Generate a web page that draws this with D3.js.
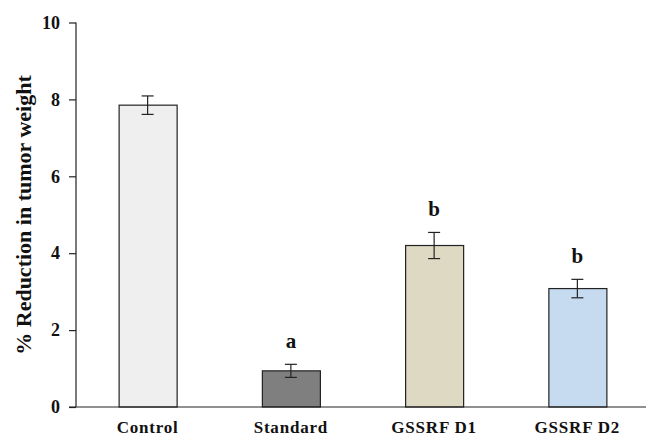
<!DOCTYPE html>
<html>
<head>
<meta charset="utf-8">
<script src="https://cdn.jsdelivr.net/npm/d3@7"></script>
<style>
  body { margin: 0; background: #fff; }
</style>
</head>
<body>
<script>
// data
var categories = ["Control", "Standard", "GSSRF D1", "GSSRF D2"];
var values = [7.85, 0.94, 4.2, 3.08];
var errors = [0.24, 0.17, 0.34, 0.24];
var letters = ["", "a", "b", "b"];
var colors = ["#efefef", "#7f7f7f", "#ddd9c3", "#c6daf0"];
var yTicks = [0, 2, 4, 6, 8, 10];

var width = 649,
    height = 436;
var font = "'Liberation Serif', 'Times New Roman', serif";

var svg = d3.select("body").append("svg")
    .attr("width", width)
    .attr("height", height);

var x = d3.scaleBand()
    .domain(categories)
    .range([76, 649])
    .paddingInner(0.595)
    .paddingOuter(0.2975);

var y = d3.scaleLinear()
    .domain([0, 10])
    .range([407, 22.5]);

// bars
svg.append("g")
    .selectAll("rect")
    .data(values)
    .enter()
    .append("rect")
    .attr("x", (d, i) => x(categories[i]) + 0.5)
    .attr("y", d => y(d))
    .attr("width", x.bandwidth())
    .attr("height", d => y(0) - y(d))
    .attr("fill", (d, i) => colors[i])
    .attr("stroke", "#222")
    .attr("stroke-width", 1.2);

// error bars
var eb = svg.append("g")
    .attr("stroke", "#222")
    .attr("stroke-width", 1.2)
    .selectAll("g")
    .data(values)
    .enter()
    .append("g");

eb.append("line")
    .attr("x1", (d, i) => x(categories[i]) + x.bandwidth() / 2)
    .attr("x2", (d, i) => x(categories[i]) + x.bandwidth() / 2)
    .attr("y1", (d, i) => y(d - errors[i]))
    .attr("y2", (d, i) => y(d + errors[i]));

[-1, 1].forEach(function(s) {
    eb.append("line")
        .attr("x1", (d, i) => x(categories[i]) + x.bandwidth() / 2 - 6)
        .attr("x2", (d, i) => x(categories[i]) + x.bandwidth() / 2 + 6)
        .attr("y1", (d, i) => y(d + s * errors[i]))
        .attr("y2", (d, i) => y(d + s * errors[i]));
});

// significance letters
svg.append("g")
    .selectAll("text")
    .data(values)
    .enter()
    .append("text")
    .attr("x", (d, i) => x(categories[i]) + x.bandwidth() / 2)
    .attr("y", (d, i) => y(d + errors[i]) - 16)
    .attr("text-anchor", "middle")
    .attr("fill", "#111")
    .style("font-family", font)
    .style("font-weight", "bold")
    .style("font-size", "21px")
    .text((d, i) => letters[i]);

// y axis
var yAxis = svg.append("g")
    .attr("transform", "translate(76,0)")
    .call(d3.axisLeft(y).tickValues(yTicks).tickSize(7).tickPadding(9).tickFormat(d3.format("d")));
yAxis.selectAll("text")
    .attr("fill", "#111")
    .style("font-family", font)
    .style("font-weight", "bold")
    .style("font-size", "18px");
yAxis.selectAll("line, path").attr("stroke", "#222").attr("stroke-width", 1.2);
yAxis.select(".domain").attr("d", "M0,407V22.5");

// x axis
svg.append("line")
    .attr("x1", 69)
    .attr("x2", 646)
    .attr("y1", y(0))
    .attr("y2", y(0))
    .attr("stroke", "#222")
    .attr("stroke-width", 1.2);

svg.append("g")
    .selectAll("text")
    .data(categories)
    .enter()
    .append("text")
    .attr("x", d => x(d) + x.bandwidth() / 2)
    .attr("y", 433)
    .attr("text-anchor", "middle")
    .attr("fill", "#111")
    .style("font-family", font)
    .style("font-weight", "bold")
    .style("font-size", "17px")
    .style("letter-spacing", "0.8px")
    .text(d => d);

// y label
svg.append("text")
    .attr("transform", "translate(31,215) rotate(-90)")
    .attr("text-anchor", "middle")
    .attr("fill", "#111")
    .style("font-family", font)
    .style("font-weight", "bold")
    .style("font-size", "22px")
    .text("% Reduction in tumor weight");
</script>
</body>
</html>
